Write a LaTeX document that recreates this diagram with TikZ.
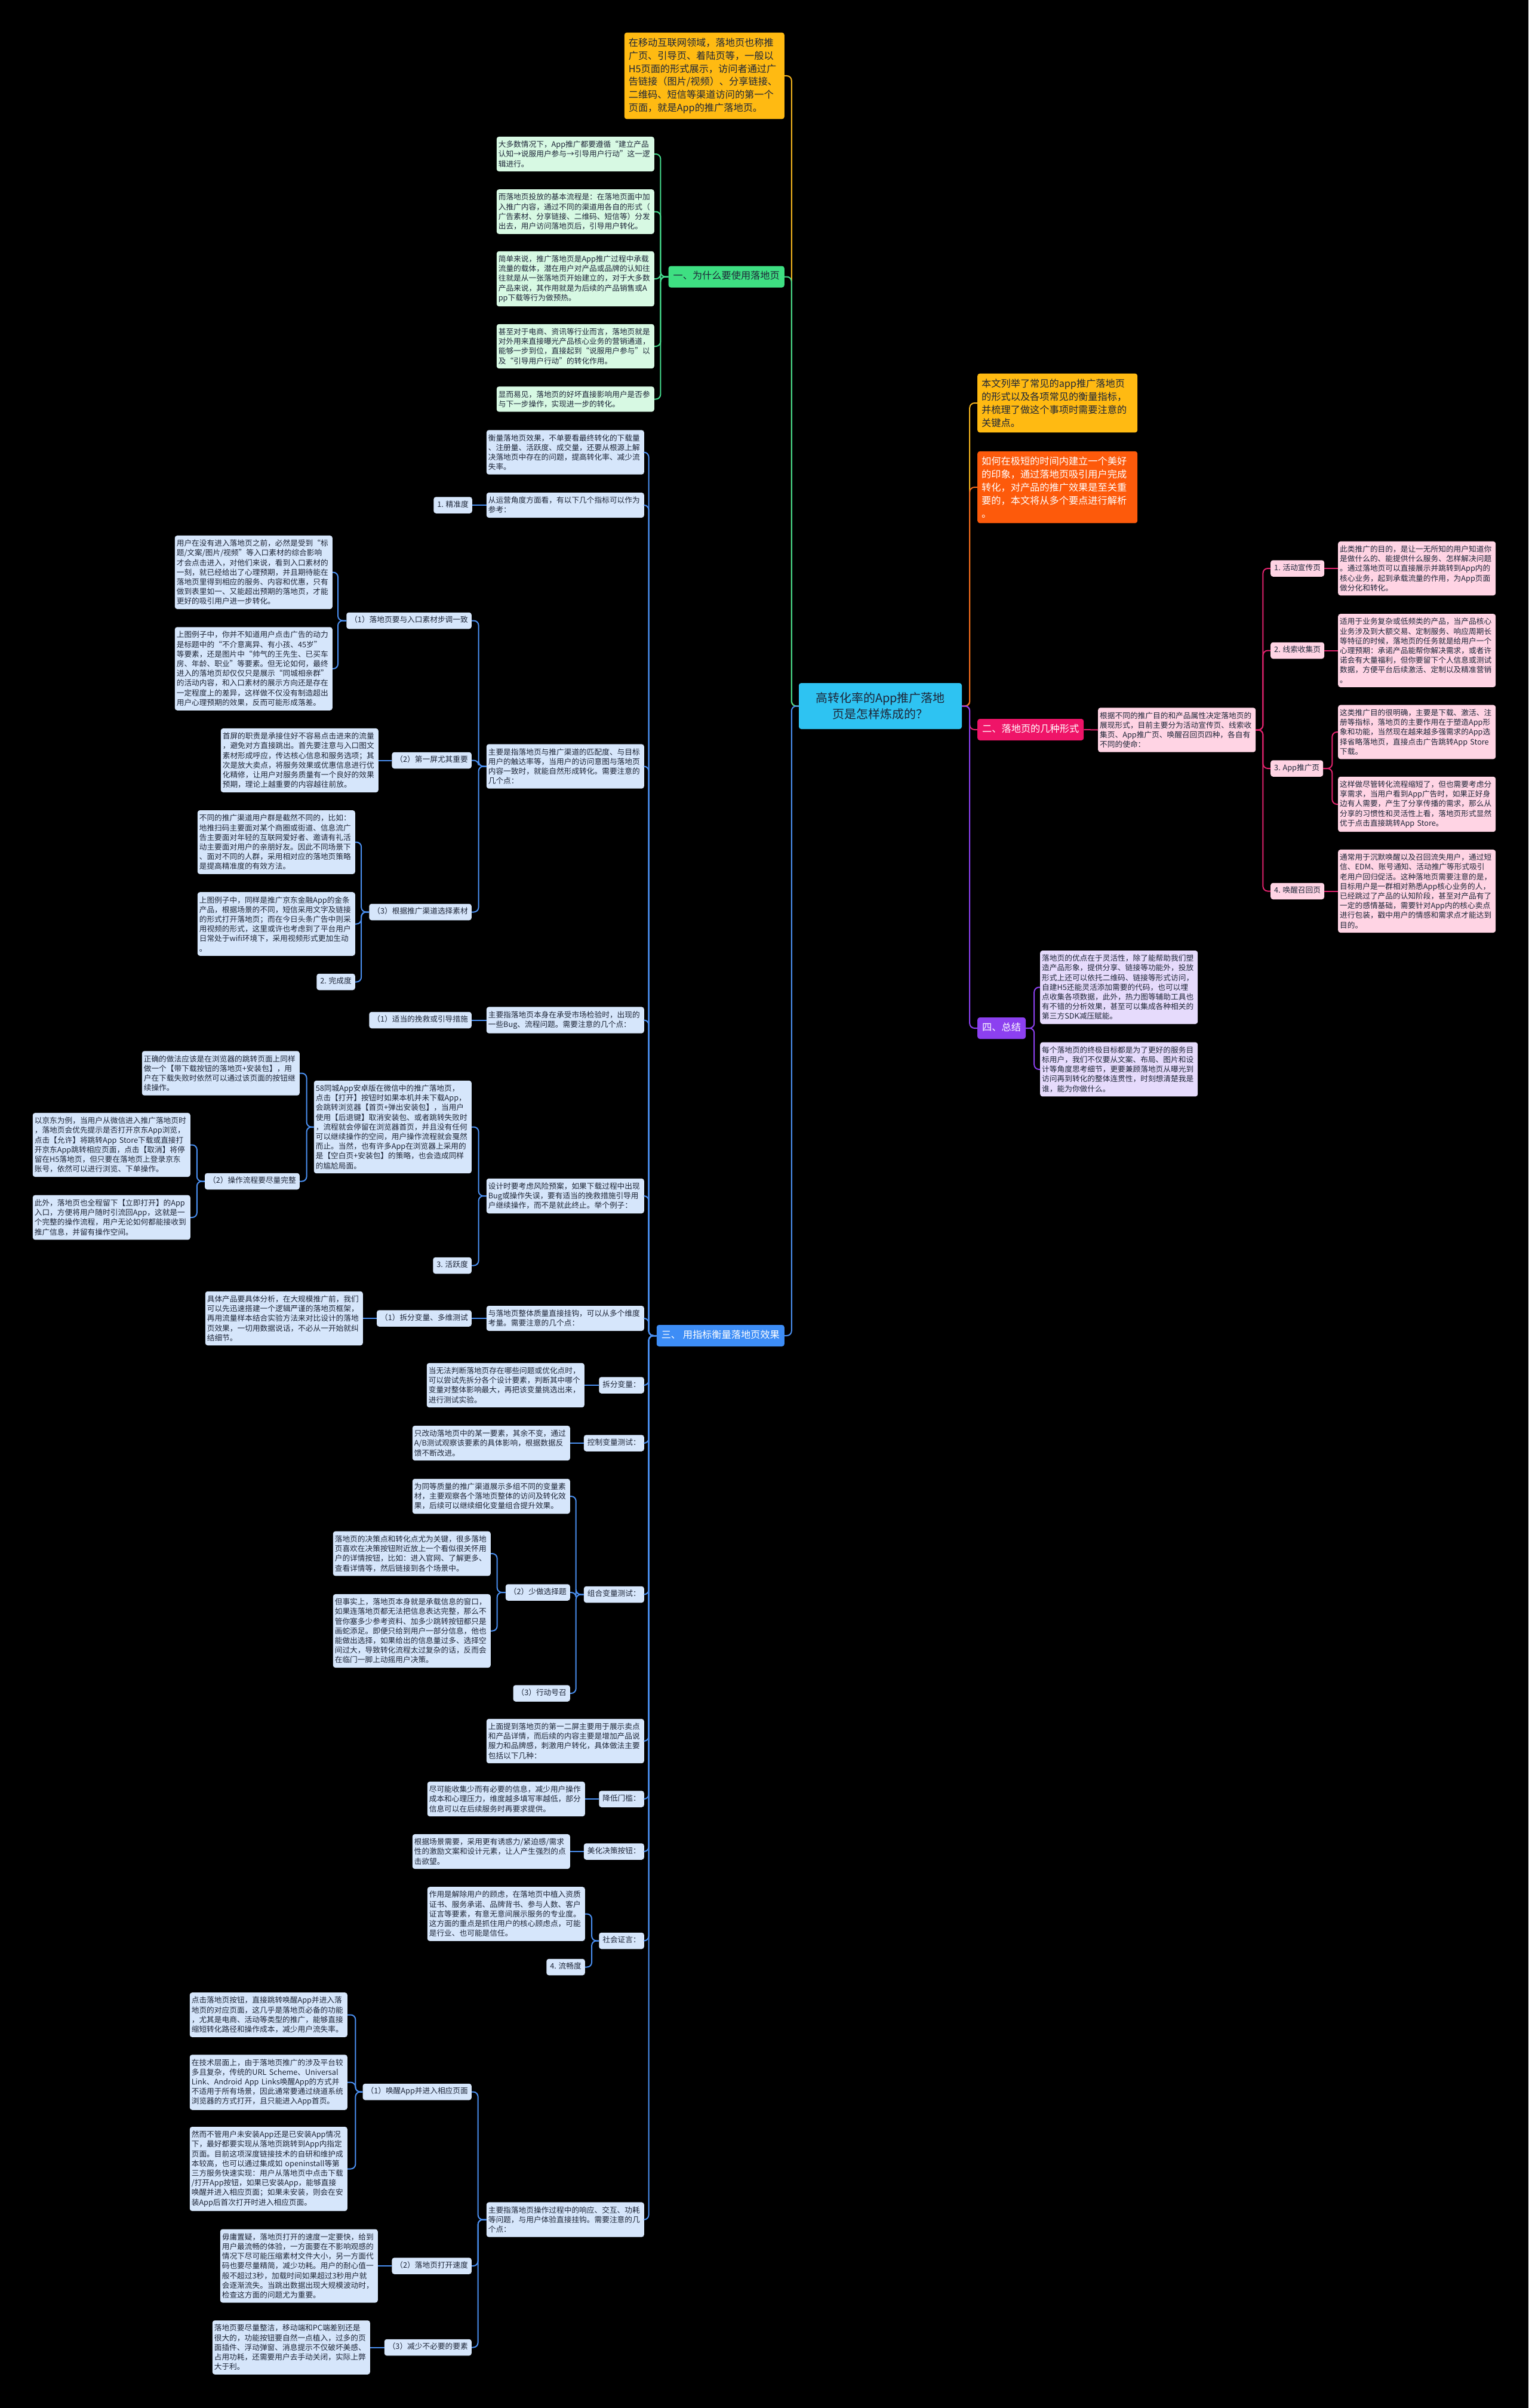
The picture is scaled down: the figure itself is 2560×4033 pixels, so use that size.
\documentclass[tikz,border=0pt]{standalone}
\usepackage{fontspec}
\setmainfont{Noto Sans CJK SC}
\usepackage{xcolor}
\definecolor{inkdark}{HTML}{1E2638}
\definecolor{rootblue}{HTML}{2EC3F2}
\definecolor{amber}{HTML}{FFBA12}
\definecolor{amberline}{HTML}{F2B31E}
\definecolor{orangebr}{HTML}{FD5A0B}
\definecolor{orangeline}{HTML}{F26A1C}
\definecolor{greenbr}{HTML}{3EDF82}
\definecolor{greenpale}{HTML}{D7F9E3}
\definecolor{greenline}{HTML}{44D98B}
\definecolor{pinkbr}{HTML}{EF1468}
\definecolor{pinkpale}{HTML}{FFD4E4}
\definecolor{pinkline}{HTML}{E2236E}
\definecolor{purplebr}{HTML}{8C40F0}
\definecolor{purplepale}{HTML}{E6DBFC}
\definecolor{bluebr}{HTML}{3D8DF6}
\definecolor{bluepale}{HTML}{D6E6FB}
\definecolor{blueline}{HTML}{4A8FF0}
\usetikzlibrary{positioning}
\tikzset{
  basetext/.style={font=\fontsize{12.7}{16.2}\selectfont, text=inkdark},
  leaf/.style={basetext, rounded corners=4pt, text width=258pt, align=left, inner xsep=3pt, inner ysep=7pt},
  tag/.style={basetext, rounded corners=4pt, inner xsep=6pt, inner ysep=0pt, text height=9.5pt, text depth=3pt, minimum height=27.5pt},
  branch/.style={font=\fontsize{16.2}{20}\selectfont, rounded corners=4pt, inner xsep=8pt, inner ysep=0pt, text height=12pt, text depth=3.5pt, minimum height=36pt},
  note/.style={font=\fontsize{16.2}{21.9}\selectfont, rounded corners=4pt, text width=254pt, align=left, inner xsep=7pt, inner ysep=9pt},
  link/.style={line width=2pt, rounded corners=8pt},
}

\begin{document}
\begin{tikzpicture}[x=1pt, y=-1pt]
\useasboundingbox (0,0) rectangle (2560,4033);
\fill[black] (0,0) rectangle (2560,4033);
% Root
\node[font=\fontsize{20}{27}\selectfont, text=inkdark, fill=rootblue, rounded corners=4pt, align=center, minimum width=273pt, minimum height=77pt] (root) at (1474.5,1182.5) {高转化率的App推广落地\\页是怎样炼成的？};
% Left top: intro note and branch one
\node[note, fill=amber, text=inkdark, anchor=east] (intro) at (1314,127) {在移动互联网领域，落地页也称推\\广页、引导页、着陆页等，一般以\\H5页面的形式展示，访问者通过广\\告链接（图片/视频）、分享链接、\\二维码、短信等渠道访问的第一个\\页面，就是App的推广落地页。};
\node[branch, fill=greenbr, text=inkdark, anchor=east] (why) at (1314,463.5) {一、为什么要使用落地页};
\node[leaf, fill=greenpale, anchor=east] (why1) at (1096,258) {大多数情况下，App推广都要遵循“建立产品\\认知→说服用户参与→引导用户行动”这一逻\\辑进行。};
\node[leaf, fill=greenpale, anchor=east] (why2) at (1096,354.5) {而落地页投放的基本流程是：在落地页面中加\\入推广内容，通过不同的渠道用各自的形式（\\广告素材、分享链接、二维码、短信等）分发\\出去，用户访问落地页后，引导用户转化。};
\node[leaf, fill=greenpale, anchor=east] (why3) at (1096,467) {简单来说，推广落地页是App推广过程中承载\\流量的载体，潜在用户对产品或品牌的认知往\\往就是从一张落地页开始建立的，对于大多数\\产品来说，其作用就是为后续的产品销售或A\\pp下载等行为做预热。};
\node[leaf, fill=greenpale, anchor=east] (why4) at (1096,580) {甚至对于电商、资讯等行业而言，落地页就是\\对外用来直接曝光产品核心业务的营销通道，\\能够一步到位，直接起到“说服用户参与”以\\及“引导用户行动”的转化作用。};
\node[leaf, fill=greenpale, anchor=east] (why5) at (1096,668.5) {显而易见，落地页的好坏直接影响用户是否参\\与下一步操作，实现进一步的转化。};
% Right: notes, branch two and branch four
\node[note, fill=amber, text=inkdark, anchor=west] (scope) at (1637,675) {本文列举了常见的app推广落地页\\的形式以及各项常见的衡量指标，\\并梳理了做这个事项时需要注意的\\关键点。};
\node[note, fill=orangebr, text=white, anchor=west] (aim) at (1637,816) {如何在极短的时间内建立一个美好\\的印象，通过落地页吸引用户完成\\转化，对产品的推广效果是至关重\\要的，本文将从多个要点进行解析\\。};
\node[branch, fill=pinkbr, text=white, anchor=west] (forms) at (1637,1222) {二、落地页的几种形式};
\node[leaf, fill=pinkpale, anchor=west] (formsdesc) at (1839,1222.5) {根据不同的推广目的和产品属性决定落地页的\\展现形式，目前主要分为活动宣传页、线索收\\集页、App推广页、唤醒召回页四种，各自有\\不同的使命：};
\node[tag, fill=pinkpale, anchor=west] (form1) at (2128,952) {1. 活动宣传页};
\node[tag, fill=pinkpale, anchor=west] (form2) at (2128,1089.5) {2. 线索收集页};
\node[tag, fill=pinkpale, anchor=west] (form3) at (2128,1287) {3. App推广页};
\node[tag, fill=pinkpale, anchor=west] (form4) at (2128,1492.5) {4. 唤醒召回页};
\node[leaf, fill=pinkpale, anchor=west] (form1d) at (2241,952) {此类推广的目的，是让一无所知的用户知道你\\是做什么的、能提供什么服务、怎样解决问题\\。通过落地页可以直接展示并跳转到App内的\\核心业务，起到承载流量的作用，为App页面\\做分化和转化。};
\node[leaf, fill=pinkpale, anchor=west] (form2d) at (2241,1089.5) {适用于业务复杂或低频类的产品，当产品核心\\业务涉及到大额交易、定制服务、响应周期长\\等特征的时候，落地页的任务就是给用户一个\\心理预期：承诺产品能帮你解决需求，或者许\\诺会有大量福利，但你要留下个人信息或测试\\数据，方便平台后续激活、定制以及精准营销\\。};
\node[leaf, fill=pinkpale, anchor=west] (form3a) at (2241,1226) {这类推广目的很明确，主要是下载、激活、注\\册等指标，落地页的主要作用在于塑造App形\\象和功能，当然现在越来越多强需求的App选\\择省略落地页，直接点击广告跳转App Store\\下载。};
\node[leaf, fill=pinkpale, anchor=west] (form3b) at (2241,1347) {这样做尽管转化流程缩短了，但也需要考虑分\\享需求，当用户看到App广告时，如果正好身\\边有人需要，产生了分享传播的需求，那么从\\分享的习惯性和灵活性上看，落地页形式显然\\优于点击直接跳转App Store。};
\node[leaf, fill=pinkpale, anchor=west] (form4d) at (2241,1492.5) {通常用于沉默唤醒以及召回流失用户，通过短\\信、EDM、账号通知、活动推广等形式吸引\\老用户回归促活。这种落地页需要注意的是，\\目标用户是一群相对熟悉App核心业务的人，\\已经跳过了产品的认知阶段，甚至对产品有了\\一定的感情基础，需要针对App内的核心卖点\\进行包装，戳中用户的情感和需求点才能达到\\目的。};
\node[branch, fill=purplebr, text=white, anchor=west] (sum) at (1637,1722) {四、总结};
\node[leaf, fill=purplepale, anchor=west] (sum1) at (1742,1653.5) {落地页的优点在于灵活性，除了能帮助我们塑\\造产品形象，提供分享、链接等功能外，投放\\形式上还可以依托二维码、链接等形式访问，\\自建H5还能灵活添加需要的代码，也可以埋\\点收集各项数据，此外，热力图等辅助工具也\\有不错的分析效果，甚至可以集成各种相关的\\第三方SDK减压赋能。};
\node[leaf, fill=purplepale, anchor=west] (sum2) at (1742,1791) {每个落地页的终极目标都是为了更好的服务目\\标用户，我们不仅要从文案、布局、图片和设\\计等角度思考细节，更要兼顾落地页从曝光到\\访问再到转化的整体连贯性，时刻想清楚我是\\谁，能为你做什么。};
% Left: branch three and its column
\node[branch, fill=bluebr, text=white, anchor=east] (metric) at (1314,2237) {三、 用指标衡量落地页效果};
\node[leaf, fill=bluepale, anchor=east] (mintro) at (1079,757.5) {衡量落地页效果，不单要看最终转化的下载量\\、注册量、活跃度、成交量，还要从根源上解\\决落地页中存在的问题，提高转化率、减少流\\失率。};
\node[leaf, fill=bluepale, anchor=east] (mview) at (1079,846) {从运营角度方面看，有以下几个指标可以作为\\参考：};
\node[leaf, fill=bluepale, anchor=east] (mfit) at (1079,1283.5) {主要是指落地页与推广渠道的匹配度、与目标\\用户的触达率等，当用户的访问意图与落地页\\内容一致时，就能自然形成转化。需要注意的\\几个点：};
\node[leaf, fill=bluepale, anchor=east] (mbug) at (1079,1708.5) {主要指落地页本身在承受市场检验时，出现的\\一些Bug、流程问题。需要注意的几个点：};
\node[leaf, fill=bluepale, anchor=east] (mrisk) at (1079,2003) {设计时要考虑风险预案，如果下载过程中出现\\Bug或操作失误，要有适当的挽救措施引导用\\户继续操作，而不是就此终止。举个例子：};
\node[leaf, fill=bluepale, anchor=east] (mqual) at (1079,2208) {与落地页整体质量直接挂钩，可以从多个维度\\考量。需要注意的几个点：};
\node[tag, fill=bluepale, anchor=east] (msplit) at (1079,2320) {拆分变量：};
\node[tag, fill=bluepale, anchor=east] (mctrl) at (1079,2417) {控制变量测试：};
\node[tag, fill=bluepale, anchor=east] (mcomb) at (1079,2670.5) {组合变量测试：};
\node[leaf, fill=bluepale, anchor=east] (mpush) at (1079,2916) {上面提到落地页的第一二屏主要用于展示卖点\\和产品详情，而后续的内容主要是增加产品说\\服力和品牌感，刺激用户转化，具体做法主要\\包括以下几种：};
\node[tag, fill=bluepale, anchor=east] (mlow) at (1079,3013) {降低门槛：};
\node[tag, fill=bluepale, anchor=east] (mbtn) at (1079,3101) {美化决策按钮：};
\node[tag, fill=bluepale, anchor=east] (mproof) at (1079,3250.5) {社会证言：};
\node[leaf, fill=bluepale, anchor=east] (mflow) at (1079,3717.5) {主要指落地页操作过程中的响应、交互、功耗\\等问题，与用户体验直接挂钩。需要注意的几\\个点：};
% Precision
\node[tag, fill=bluepale, anchor=east] (tprec) at (791,846) {1. 精准度};
\node[tag, fill=bluepale, anchor=east] (tstep) at (790,1039.5) {（1）落地页要与入口素材步调一致};
\node[tag, fill=bluepale, anchor=east] (tfirst) at (790,1273.5) {（2）第一屏尤其重要};
\node[tag, fill=bluepale, anchor=east] (tchan) at (790,1527.5) {（3）根据推广渠道选择素材};
\node[leaf, fill=bluepale, anchor=east] (lstep1) at (557,958.5) {用户在没有进入落地页之前，必然是受到“标\\题/文案/图片/视频”等入口素材的综合影响\\才会点击进入，对他们来说，看到入口素材的\\一刻，就已经给出了心理预期，并且期待能在\\落地页里得到相应的服务、内容和优惠，只有\\做到表里如一、又能超出预期的落地页，才能\\更好的吸引用户进一步转化。};
\node[leaf, fill=bluepale, anchor=east] (lstep2) at (557,1120) {上图例子中，你并不知道用户点击广告的动力\\是标题中的“不介意离异、有小孩、45岁”\\等要素，还是图片中“帅气的王先生、已买车\\房、年龄、职业”等要素。但无论如何，最终\\进入的落地页却仅仅只是展示“同城相亲群”\\的活动内容，和入口素材的展示方向还是存在\\一定程度上的差异，这样做不仅没有制造超出\\用户心理预期的效果，反而可能形成落差。};
\node[leaf, fill=bluepale, anchor=east] (lfirst) at (634,1273.5) {首屏的职责是承接住好不容易点击进来的流量\\，避免对方直接跳出。首先要注意与入口图文\\素材形成呼应，传达核心信息和服务选项；其\\次是放大卖点，将服务效果或优惠信息进行优\\化精修，让用户对服务质量有一个良好的效果\\预期，理论上越重要的内容越往前放。};
\node[leaf, fill=bluepale, anchor=east] (lchan1) at (595,1410.5) {不同的推广渠道用户群是截然不同的，比如：\\地推扫码主要面对某个商圈或街道、信息流广\\告主要面对年轻的互联网爱好者、邀请有礼活\\动主要面对用户的亲朋好友。因此不同场景下\\、面对不同的人群，采用相对应的落地页策略\\是提高精准度的有效方法。};
\node[leaf, fill=bluepale, anchor=east] (lchan2) at (595,1547.5) {上图例子中，同样是推广京东金融App的金条\\产品，根据场景的不同，短信采用文字及链接\\的形式打开落地页；而在今日头条广告中则采\\用视频的形式，这里或许也考虑到了平台用户\\日常处于wifi环境下，采用视频形式更加生动\\。};
\node[tag, fill=bluepale, anchor=east] (tdone) at (595,1644.5) {2. 完成度};
% Completion
\node[tag, fill=bluepale, anchor=east] (tsave) at (790,1708.5) {（1）适当的挽救或引导措施};
\node[leaf, fill=bluepale, anchor=east] (l58) at (790,1887.5) {58同城App安卓版在微信中的推广落地页，\\点击【打开】按钮时如果本机并未下载App，\\会跳转浏览器【首页+弹出安装包】，当用户\\使用【后退键】取消安装包、或者跳转失败时\\，流程就会停留在浏览器首页，并且没有任何\\可以继续操作的空间，用户操作流程就会戛然\\而止。当然，也有许多App在浏览器上采用的\\是【空白页+安装包】的策略，也会造成同样\\的尴尬局面。};
\node[tag, fill=bluepale, anchor=east] (tactive) at (790,2119.5) {3. 活跃度};
\node[leaf, fill=bluepale, anchor=east] (lfix) at (502,1797.5) {正确的做法应该是在浏览器的跳转页面上同样\\做一个【带下载按钮的落地页+安装包】，用\\户在下载失败时依然可以通过该页面的按钮继\\续操作。};
\node[tag, fill=bluepale, anchor=east] (tcomplete) at (502,1978.5) {（2）操作流程要尽量完整};
\node[leaf, fill=bluepale, anchor=east] (ljd) at (319,1917.5) {以京东为例，当用户从微信进入推广落地页时\\，落地页会优先提示是否打开京东App浏览，\\点击【允许】将跳转App Store下载或直接打\\开京东App跳转相应页面，点击【取消】将停\\留在H5落地页，但只要在落地页上登录京东\\账号，依然可以进行浏览、下单操作。};
\node[leaf, fill=bluepale, anchor=east] (lalso) at (319,2039) {此外，落地页也全程留下【立即打开】的App\\入口，方便将用户随时引流回App，这就是一\\个完整的操作流程，用户无论如何都能接收到\\推广信息，并留有操作空间。};
% Activity
\node[tag, fill=bluepale, anchor=east] (tsplit) at (790,2208) {（1）拆分变量、多维测试};
\node[leaf, fill=bluepale, anchor=east] (lsplit) at (608,2208) {具体产品要具体分析，在大规模推广前，我们\\可以先迅速搭建一个逻辑严谨的落地页框架，\\再用流量样本结合实验方法来对比设计的落地\\页效果，一切用数据说话，不必从一开始就纠\\结细节。};
\node[leaf, fill=bluepale, anchor=east] (lsplitvar) at (979,2320) {当无法判断落地页存在哪些问题或优化点时，\\可以尝试先拆分各个设计要素，判断其中哪个\\变量对整体影响最大，再把该变量挑选出来，\\进行测试实验。};
\node[leaf, fill=bluepale, anchor=east] (lctrl) at (955,2417) {只改动落地页中的某一要素，其余不变，通过\\A/B测试观察该要素的具体影响，根据数据反\\馈不断改进。};
\node[leaf, fill=bluepale, anchor=east] (lcomb) at (955,2506) {为同等质量的推广渠道展示多组不同的变量素\\材，主要观察各个落地页整体的访问及转化效\\果，后续可以继续细化变量组合提升效果。};
\node[tag, fill=bluepale, anchor=east] (tfew) at (955,2667) {（2）少做选择题};
\node[tag, fill=bluepale, anchor=east] (tcall) at (955,2836) {（3）行动号召};
\node[leaf, fill=bluepale, anchor=east] (lfew1) at (822,2602) {落地页的决策点和转化点尤为关键，很多落地\\页喜欢在决策按钮附近放上一个看似很关怀用\\户的详情按钮，比如：进入官网、了解更多、\\查看详情等，然后链接到各个场景中。};
\node[leaf, fill=bluepale, anchor=east] (lfew2) at (822,2731.5) {但事实上，落地页本身就是承载信息的窗口，\\如果连落地页都无法把信息表达完整，那么不\\管你塞多少参考资料、加多少跳转按钮都只是\\画蛇添足。即便只给到用户一部分信息，他也\\能做出选择，如果给出的信息量过多、选择空\\间过大，导致转化流程太过复杂的话，反而会\\在临门一脚上动摇用户决策。};
\node[leaf, fill=bluepale, anchor=east] (llow) at (980,3013) {尽可能收集少而有必要的信息，减少用户操作\\成本和心理压力，维度越多填写率越低，部分\\信息可以在后续服务时再要求提供。};
\node[leaf, fill=bluepale, anchor=east] (lbtn) at (955,3101) {根据场景需要，采用更有诱惑力/紧迫感/需求\\性的激励文案和设计元素，让人产生强烈的点\\击欲望。};
\node[leaf, fill=bluepale, anchor=east] (lproof) at (980,3205.5) {作用是解除用户的顾虑，在落地页中植入资质\\证书、服务承诺、品牌背书、参与人数、客户\\证言等要素，有意无意间展示服务的专业度。\\这方面的重点是抓住用户的核心顾虑点，可能\\是行业、也可能是信任。};
\node[tag, fill=bluepale, anchor=east] (tsmooth) at (980,3294.5) {4. 流畅度};
% Fluency
\node[tag, fill=bluepale, anchor=east] (twake) at (790,3503.5) {（1）唤醒App并进入相应页面};
\node[tag, fill=bluepale, anchor=east] (tspeed) at (790,3795) {（2）落地页打开速度};
\node[tag, fill=bluepale, anchor=east] (tless) at (790,3931.5) {（3）减少不必要的要素};
\node[leaf, fill=bluepale, anchor=east] (lwake1) at (582,3374.5) {点击落地页按钮，直接跳转唤醒App并进入落\\地页的对应页面，这几乎是落地页必备的功能\\，尤其是电商、活动等类型的推广，能够直接\\缩短转化路径和操作成本，减少用户流失率。};
\node[leaf, fill=bluepale, anchor=east] (lwake2) at (582,3487.5) {在技术层面上，由于落地页推广的涉及平台较\\多且复杂，传统的URL Scheme、Universal\\Link、Android App Links唤醒App的方式并\\不适用于所有场景，因此通常要通过绕道系统\\浏览器的方式打开，且只能进入App首页。};
\node[leaf, fill=bluepale, anchor=east] (lwake3) at (582,3632.5) {然而不管用户未安装App还是已安装App情况\\下，最好都要实现从落地页跳转到App内指定\\页面。目前这项深度链接技术的自研和维护成\\本较高，也可以通过集成如 openinstall等第\\三方服务快速实现：用户从落地页中点击下载\\/打开App按钮，如果已安装App，能够直接\\唤醒并进入相应页面；如果未安装，则会在安\\装App后首次打开时进入相应页面。};
\node[leaf, fill=bluepale, anchor=east] (lspeed) at (633,3795) {毋庸置疑，落地页打开的速度一定要快，给到\\用户最流畅的体验，一方面要在不影响观感的\\情况下尽可能压缩素材文件大小，另一方面代\\码也要尽量精简，减少功耗。用户的耐心值一\\般不超过3秒，加载时间如果超过3秒用户就\\会逐渐流失。当跳出数据出现大规模波动时，\\检查这方面的问题尤为重要。};
\node[leaf, fill=bluepale, anchor=east] (lless) at (620,3931.5) {落地页要尽量整洁，移动端和PC端差别还是\\很大的，功能按钮要自然一点植入，过多的页\\面插件、浮动弹窗、消息提示不仅破坏美感、\\占用功耗，还需要用户去手动关闭，实际上弊\\大于利。};
% Connectors from the root
\draw[link, amberline] (root.west) -- ++(-12,0) |- (intro.east);
\draw[link, greenline] (root.west) -- ++(-12,0) |- (why.east);
\draw[link, blueline] (root.west) -- ++(-12,0) |- (metric.east);
\draw[link, amberline] (root.east) -- ++(13,0) |- (scope.west);
\draw[link, orangeline] (root.east) -- ++(13,0) |- (aim.west);
\draw[link, pinkline] (root.east) -- ++(13,0) |- (forms.west);
\draw[link, purplebr] (root.east) -- ++(13,0) |- (sum.west);
% Branch one
\foreach \n in {why1,why2,why3,why4,why5}
  \draw[link, greenline] (why.west) -- ++(-13,0) |- (\n.east);
% Branches two and four
\draw[link, pinkline] (forms.east) -- (formsdesc.west);
\foreach \n in {form1,form2,form3,form4}
  \draw[link, pinkline] (formsdesc.east) -- ++(12,0) |- (\n.west);
\draw[link, pinkline] (form1.east) -- (form1d.west);
\draw[link, pinkline] (form2.east) -- (form2d.west);
\draw[link, pinkline] (form3.east) -- ++(15,0) |- (form3a.west);
\draw[link, pinkline] (form3.east) -- ++(15,0) |- (form3b.west);
\draw[link, pinkline] (form4.east) -- (form4d.west);
\foreach \n in {sum1,sum2}
  \draw[link, purplebr] (sum.east) -- ++(14,0) |- (\n.west);
% Branch three
\foreach \n in {mintro,mview,mfit,mbug,mrisk,mqual,msplit,mctrl,mcomb,mpush,mlow,mbtn,mproof,mflow}
  \draw[link, blueline] (metric.west) -- ++(-13,0) |- (\n.east);
\begin{scope}[link, blueline]
\draw (mview.west) -- (tprec.east);
\foreach \n in {tstep,tfirst,tchan}
  \draw (mfit.west) -- ++(-13,0) |- (\n.east);
\foreach \n in {lstep1,lstep2}
  \draw (tstep.west) -- ++(-14,0) |- (\n.east);
\draw (tfirst.west) -- (lfirst.east);
\foreach \n in {lchan1,lchan2,tdone}
  \draw (tchan.west) -- ++(-13,0) |- (\n.east);
\draw (mbug.west) -- (tsave.east);
\foreach \n in {l58,tactive}
  \draw (mrisk.west) -- ++(-13,0) |- (\n.east);
\foreach \n in {lfix,tcomplete}
  \draw (l58.west) -- ++(-12,0) |- (\n.east);
\foreach \n in {ljd,lalso}
  \draw (tcomplete.west) -- ++(-13,0) |- (\n.east);
\draw (mqual.west) -- (tsplit.east);
\draw (tsplit.west) -- (lsplit.east);
\draw (msplit.west) -- (lsplitvar.east);
\draw (mctrl.west) -- (lctrl.east);
\foreach \n in {lcomb,tfew,tcall}
  \draw (mcomb.west) -- ++(-13,0) |- (\n.east);
\foreach \n in {lfew1,lfew2}
  \draw (tfew.west) -- ++(-14,0) |- (\n.east);
\draw (mlow.west) -- (llow.east);
\draw (mbtn.west) -- (lbtn.east);
\foreach \n in {lproof,tsmooth}
  \draw (mproof.west) -- ++(-12,0) |- (\n.east);
\foreach \n in {twake,tspeed,tless}
  \draw (mflow.west) -- ++(-14,0) |- (\n.east);
\foreach \n in {lwake1,lwake2,lwake3}
  \draw (twake.west) -- ++(-12,0) |- (\n.east);
\draw (tspeed.west) -- (lspeed.east);
\draw (tless.west) -- (lless.east);
\end{scope}
\end{tikzpicture}
\end{document}
